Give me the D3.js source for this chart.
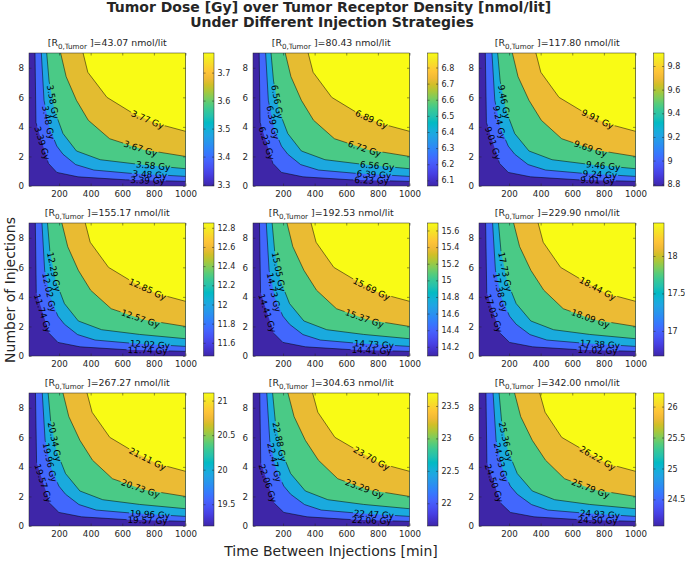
<!DOCTYPE html>
<html>
<head>
<meta charset="utf-8">
<script src="https://cdn.jsdelivr.net/npm/d3@7"></script>
<style>
  body { margin: 0; background: #fff; }
  svg { font-family: "DejaVu Sans", sans-serif; }
</style>
</head>
<body>
<svg id="chart" width="685" height="562"></svg>
<script>
// ---- data ----
const receptorDensity = [43.07, 80.43, 117.80, 155.17, 192.53, 229.90, 267.27, 304.63, 342.00];

const doseLevels = [
  [3.39, 3.48, 3.58, 3.67, 3.77],
  [6.23, 6.39, 6.56, 6.72, 6.89],
  [9.01, 9.24, 9.46, 9.69, 9.91],
  [11.74, 12.02, 12.29, 12.57, 12.85],
  [14.41, 14.73, 15.05, 15.37, 15.69],
  [17.02, 17.38, 17.73, 18.09, 18.44],
  [19.57, 19.96, 20.34, 20.73, 21.11],
  [22.06, 22.47, 22.88, 23.29, 23.70],
  [24.50, 24.93, 25.36, 25.79, 26.22]
];

const colorbarTicks = [
  [3.3, 3.4, 3.5, 3.6, 3.7],
  [6.1, 6.2, 6.3, 6.4, 6.5, 6.6, 6.7, 6.8],
  [8.8, 9, 9.2, 9.4, 9.6, 9.8],
  [11.6, 11.8, 12, 12.2, 12.4, 12.6, 12.8],
  [14.2, 14.4, 14.6, 14.8, 15, 15.2, 15.4, 15.6],
  [17, 17.5, 18],
  [19.5, 20, 20.5, 21],
  [22, 22.5, 23, 23.5],
  [24.5, 25, 25.5, 26]
];

const xTicks = [200, 400, 600, 800, 1000];
const yTicks = [0, 2, 4, 6, 8];

// number of injections along each contour (lowest level first), same for every panel
const contourN = [
  [9, 4.3, 1.53, 0.92, 0.62, 0.42, 0.31],
  [9, 5.8, 3.9, 2.7, 2.15, 1.45, 1.08, 0.86, 0.65],
  [9, 7.1, 5.1, 3.55, 2.37, 1.78, 1.46, 1.17],
  [9, 7.4, 5.8, 4.45, 3.2, 2.46, 2.0],
  [9, 7.7, 6.0, 4.9, 4.22, 3.7]
];

// time between injections along each contour, per panel
const contourT = [
  [[48,54,133,186,320,620,1000],[88,105,140,186,225,305,420,650,1000],[122,137,172,225,310,460,710,1000],[210,245,310,385,520,735,1000],[352,382,503,670,820,1000]],
  [[49,55,136,190,326,626,1000],[90,107,143,190,230,311,424,657,1000],[124,140,175,230,316,465,710,1000],[214,250,316,393,525,735,1000],[359,390,508,677,820,1000]],
  [[50,57,140,195,336,636,1000],[92,110,147,195,236,320,431,666,1000],[128,144,181,236,326,472,710,1000],[221,257,326,404,533,735,1000],[370,401,516,687,820,1000]],
  [[50,56,138,193,333,632,1000],[92,109,146,193,234,317,428,663,1000],[127,142,179,234,322,469,710,1000],[218,255,322,400,530,735,1000],[366,397,513,683,820,1000]],
  [[51,58,142,199,342,642,1000],[94,112,150,199,241,326,435,673,1000],[131,147,184,241,332,476,710,1000],[225,262,332,412,538,735,1000],[377,409,521,693,820,1000]],
  [[52,59,145,203,349,648,1000],[96,114,153,203,245,332,439,679,1000],[133,149,187,245,338,481,710,1000],[229,267,338,420,543,735,1000],[384,416,526,700,820,1000]],
  [[51,58,142,199,342,642,1000],[94,112,150,199,241,326,435,673,1000],[131,147,184,241,332,476,710,1000],[225,262,332,412,538,735,1000],[377,409,521,693,820,1000]],
  [[53,59,146,205,352,651,1000],[97,116,154,205,248,336,441,683,1000],[134,151,189,248,341,483,710,1000],[231,270,341,424,546,735,1000],[387,420,528,704,820,1000]],
  [[54,60,149,208,358,657,1000],[99,118,157,208,252,342,445,689,1000],[137,153,193,252,347,488,710,1000],[235,274,347,431,551,735,1000],[394,428,533,710,820,1000]]
];

// contours that carry a label on their flat (right hand) part
const flatLabels = [
  [0,1,2,3,4], [0,1,2,3,4], [0,1,2,3,4],
  [0,1,3,4], [0,1,3,4], [0,1,3,4],
  [0,1,3,4], [0,1,3,4], [0,1,3,4]
];

// parula colormap (every third entry)
const parulaStops = [
  [0.2422,0.1504,0.6603],[0.2647,0.1978,0.7952],[0.2783,0.2559,0.8991],[0.2810,0.3228,0.9579],
  [0.2699,0.3892,0.9906],[0.2206,0.4603,0.9973],[0.1786,0.5289,0.9682],[0.1540,0.5902,0.9218],
  [0.1248,0.6459,0.8883],[0.0689,0.6948,0.8394],[0.0067,0.7312,0.7660],[0.1408,0.7584,0.6842],
  [0.2161,0.7843,0.5923],[0.3406,0.8008,0.4789],[0.5044,0.7993,0.3480],[0.6720,0.7793,0.2227],
  [0.8203,0.7498,0.1535],[0.9393,0.7288,0.2100],[0.9970,0.7659,0.2199],[0.9786,0.8386,0.1766],
  [0.9597,0.9135,0.1423],[0.9769,0.9839,0.0805]
];

// ---- layout ----
const colLeft = [29, 253, 479],
      rowTop = [53, 223, 393],
      pw = 156.5,
      ph = 133,
      cbGap = 18,
      cbW = 10.5,
      ink = "#262626";
const tLabelAt = [760, 775, 795, 715, 760];  // flat labels, per contour
const nLabelAt = [2.9, 4.3, 5.7];            // steep labels, lowest three contours

const parula = d3.scaleLinear()
    .domain(parulaStops.map((d, i) => i / (parulaStops.length - 1)))
    .range(parulaStops.map(d => d3.rgb(d[0] * 255, d[1] * 255, d[2] * 255).toString()))
    .clamp(true);

const svg = d3.select("#chart");
const defs = svg.append("defs");

const grad = defs.append("linearGradient").attr("id", "parula")
    .attr("x1", 0).attr("y1", 1).attr("x2", 0).attr("y2", 0);
parulaStops.forEach((d, i) => {
    grad.append("stop")
        .attr("offset", i / (parulaStops.length - 1))
        .attr("stop-color", parula(i / (parulaStops.length - 1)));
});

// find the point of a pixel polyline where coordinate `axis` equals v
function pointAt(pts, axis, v) {
    for (let j = 0; j < pts.length - 1; j++) {
        const a = pts[j], b = pts[j + 1];
        const lo = Math.min(a[axis], b[axis]), hi = Math.max(a[axis], b[axis]);
        if (v >= lo && v <= hi && hi > lo) {
            const f = (v - a[axis]) / (b[axis] - a[axis]);
            return {
                x: a[0] + f * (b[0] - a[0]),
                y: a[1] + f * (b[1] - a[1]),
                ang: Math.atan2(b[1] - a[1], b[0] - a[0]) * 180 / Math.PI
            };
        }
    }
    return null;
}

function styleAxis(sel, size) {
    sel.select(".domain").remove();
    sel.selectAll(".tick line").attr("stroke", ink).attr("stroke-width", 0.5);
    sel.selectAll(".tick text").attr("fill", ink).attr("font-size", size)
        .attr("font-family", "DejaVu Sans, sans-serif");
}

receptorDensity.forEach((r0, i) => {
    const g = svg.append("g")
        .attr("transform", `translate(${colLeft[i % 3]},${rowTop[Math.floor(i / 3)]})`);

    const x = d3.scaleLinear().domain([10, 1000]).range([0, pw]);
    const y = d3.scaleLinear().domain([0, 9]).range([ph, 0]);

    const lv = doseLevels[i];
    const zmin = lv[0] - (lv[4] - lv[0]) / 4, zmax = lv[4];
    const norm = d3.scaleLinear().domain([zmin, zmax]).range([0, 1]);

    // filled contour bands
    g.append("rect").attr("width", pw).attr("height", ph).attr("fill", parula(0));
    const curves = contourT[i].map((ts, k) => ts.map((t, j) => [t, contourN[k][j]]));
    const line = d3.line().x(d => x(d[0])).y(d => y(d[1]));
    curves.forEach((c, k) => {
        g.append("path")
            .attr("d", line(c.concat([[1000, 9]])) + "Z")
            .attr("fill", parula(norm(lv[k])));
    });

    // label spots
    const labels = [];
    curves.forEach((c, k) => {
        const px = c.map(d => [x(d[0]), y(d[1])]);
        if (k < 3) {
            const p = pointAt(px, 1, y(nLabelAt[k]));
            if (p) labels.push(Object.assign({ k }, p));
        }
        if (flatLabels[i].includes(k)) {
            const p = pointAt(px, 0, x(tLabelAt[k]));
            if (p) labels.push(Object.assign({ k }, p));
        }
    });

    const mask = defs.append("mask").attr("id", "m" + i)
        .attr("maskUnits", "userSpaceOnUse")
        .attr("x", -5).attr("y", -5).attr("width", pw + 10).attr("height", ph + 10);
    mask.append("rect").attr("x", -5).attr("y", -5)
        .attr("width", pw + 10).attr("height", ph + 10).attr("fill", "#fff");

    const lineG = g.append("g").attr("mask", `url(#m${i})`);
    curves.forEach(c => {
        lineG.append("path").attr("d", line(c))
            .attr("fill", "none").attr("stroke", "#000").attr("stroke-width", 0.5);
    });

    labels.forEach(L => {
        const tf = `translate(${L.x},${L.y}) rotate(${L.ang})`;
        const t = g.append("text")
            .attr("transform", tf)
            .attr("text-anchor", "middle")
            .attr("dy", "0.35em")
            .attr("font-size", 8.8)
            .attr("fill", "#000")
            .text(lv[L.k].toFixed(2) + " Gy");
        const w = t.node().getComputedTextLength();
        mask.append("rect").attr("transform", tf)
            .attr("x", -w / 2 - 1).attr("y", -4.5)
            .attr("width", w + 2).attr("height", 9).attr("fill", "#000");
    });

    // axes, ticks pointing inward
    const fmt = d3.format("d");
    g.append("g").attr("transform", `translate(0,${ph})`)
        .call(d3.axisBottom(x).tickValues(xTicks).tickSizeInner(-2.5).tickSizeOuter(0)
            .tickPadding(5).tickFormat(fmt))
        .call(styleAxis, 8.7);
    g.append("g")
        .call(d3.axisTop(x).tickValues(xTicks).tickSizeInner(-2.5).tickSizeOuter(0).tickFormat(""))
        .call(styleAxis, 8.7);
    g.append("g")
        .call(d3.axisLeft(y).tickValues(yTicks).tickSizeInner(-2.5).tickSizeOuter(0)
            .tickPadding(5).tickFormat(fmt))
        .call(styleAxis, 8.7);
    g.append("g").attr("transform", `translate(${pw},0)`)
        .call(d3.axisRight(y).tickValues(yTicks).tickSizeInner(-2.5).tickSizeOuter(0).tickFormat(""))
        .call(styleAxis, 8.7);
    g.append("rect").attr("width", pw).attr("height", ph)
        .attr("fill", "none").attr("stroke", ink).attr("stroke-width", 0.5);

    // colorbar
    const cb = d3.scaleLinear().domain([zmin, zmax]).range([ph, 0]);
    g.append("rect").attr("x", pw + cbGap).attr("width", cbW).attr("height", ph)
        .attr("fill", "url(#parula)");
    g.append("g").attr("transform", `translate(${pw + cbGap + cbW},0)`)
        .call(d3.axisRight(cb).tickValues(colorbarTicks[i]).tickSizeInner(-2).tickSizeOuter(0)
            .tickPadding(3.5).tickFormat(d => String(d)))
        .call(styleAxis, 8);
    g.append("g").attr("transform", `translate(${pw + cbGap},0)`)
        .call(d3.axisLeft(cb).tickValues(colorbarTicks[i]).tickSizeInner(-2).tickSizeOuter(0).tickFormat(""))
        .call(styleAxis, 8);
    g.append("rect").attr("x", pw + cbGap).attr("width", cbW).attr("height", ph)
        .attr("fill", "none").attr("stroke", ink).attr("stroke-width", 0.5);

    // panel title
    const st = g.append("text").attr("x", pw / 2).attr("y", -7)
        .attr("text-anchor", "middle").attr("font-size", 9.4).attr("fill", ink);
    st.append("tspan").text("[R");
    st.append("tspan").attr("dy", 3).attr("font-size", 7.2).text("0,Tumor");
    st.append("tspan").attr("dy", -3).text(" ]=" + r0.toFixed(2) + " nmol/lit");
});

// figure titles
svg.append("text").attr("x", 329).attr("y", 12).attr("text-anchor", "middle")
    .attr("font-size", 14).attr("font-weight", "bold").attr("fill", ink)
    .text("Tumor Dose [Gy] over Tumor Receptor Density [nmol/lit]");
svg.append("text").attr("x", 332).attr("y", 27).attr("text-anchor", "middle")
    .attr("font-size", 14).attr("font-weight", "bold").attr("fill", ink)
    .text("Under Different Injection Strategies");
svg.append("text").attr("x", 331).attr("y", 556).attr("text-anchor", "middle")
    .attr("font-size", 14).attr("fill", ink)
    .text("Time Between Injections [min]");
svg.append("text").attr("transform", "translate(15,290) rotate(-90)")
    .attr("text-anchor", "middle").attr("font-size", 14).attr("fill", ink)
    .text("Number of Injections");
</script>
</body>
</html>
